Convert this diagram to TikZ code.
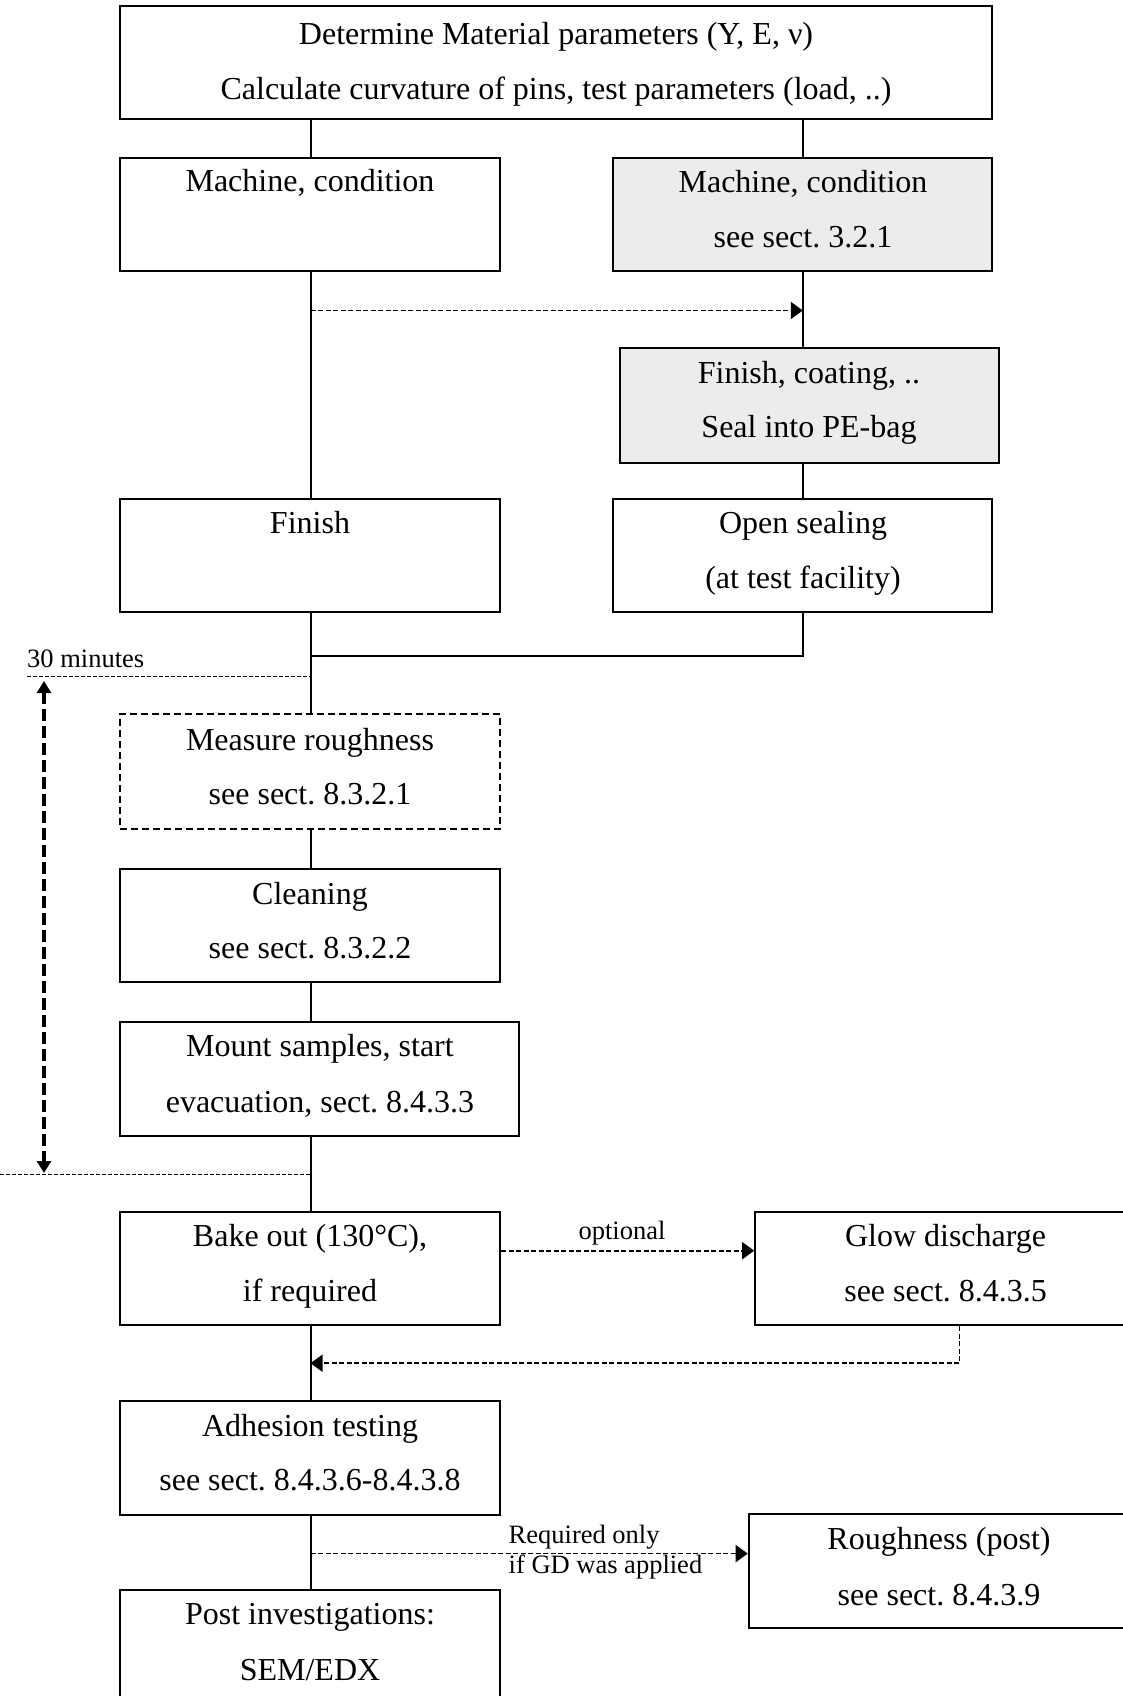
\documentclass[tikz,border=0pt]{standalone}
\usepackage{fontspec}
\setmainfont{Liberation Serif}
\usetikzlibrary{arrows.meta,fit,calc}
\frenchspacing
\begin{document}
\begin{tikzpicture}[x=1pt,y=-1pt,
  box/.style={draw, line width=2pt, rectangle, inner sep=0pt},
  graybox/.style={box, fill=gray!15},
  dbox/.style={draw, line width=1.8pt, dash pattern=on 7pt off 4pt, rectangle, inner sep=0pt},
  txt/.style={font=\fontsize{32}{38}\selectfont, inner sep=0pt, anchor=base, yshift=-10.8pt},
  small/.style={font=\fontsize{26.5}{29.5}\selectfont, inner sep=0pt},
  conn/.style={line width=2pt},
  dconn/.style={line width=1.6pt, dash pattern=on 5pt off 2.5pt},
  dotl/.style={line width=1pt, dash pattern=on 4pt off 2pt},
  tip/.style={-{Triangle[length=12pt,width=17pt]}}
]
\useasboundingbox (0,0) rectangle (1123,1696);
\clip (0,0) rectangle (1123,1696);
% column coordinates
\coordinate (xl) at (310.5,0);
\coordinate (xr) at (802.8,0);
% boxes
\node[box, fit={(120,6.5) (992,119)}] (top) {};
\node[box, fit={(120,158) (500,270.5)}] (m1) {};
\node[graybox, fit={(613.4,158) (992,270.5)}] (m2) {};
\node[graybox, fit={(620,348.4) (998.6,463)}] (fc) {};
\node[box, fit={(120,499) (500,612.4)}] (fin) {};
\node[box, fit={(613.4,499) (992,612.4)}] (os) {};
\node[dbox, fit={(120,714) (500,828.7)}] (mr) {};
\node[box, fit={(120,868.8) (500,982.4)}] (cl) {};
\node[box, fit={(120,1022.4) (519.3,1136)}] (ms) {};
\node[box, fit={(120,1211.7) (500,1325.3)}] (bo) {};
\node[box, fit={(755.2,1211.7) (1136,1325.3)}] (gd) {};
\node[box, fit={(120,1401) (500,1514.6)}] (ad) {};
\node[box, fit={(748.7,1513.6) (1129,1628.2)}] (rp) {};
\node[box, fit={(120,1590.4) (500,1703)}] (pi) {};
% texts
\node[txt] (t1a) at (556,33.5) {Determine Material parameters (Y, E, ν)};
\node[txt] (t1b) at (556,88.7) {Calculate curvature of pins, test parameters (load, ..)};
\node[txt] (tm1) at (310,180.7) {Machine, condition};
\node[txt] (tm2a) at (803,181.8) {Machine, condition};
\node[txt] (tm2b) at (803,237) {see sect. 3.2.1};
\node[txt] (tfca) at (809,373) {Finish, coating, ..};
\node[txt] (tfcb) at (809,427) {Seal into PE-bag};
\node[txt] (tfin) at (310,522.5) {Finish};
\node[txt] (tosa) at (803,522.5) {Open sealing};
\node[txt] (tosb) at (803,577.7) {(at test facility)};
\node[txt] (tmra) at (310,740) {Measure roughness};
\node[txt] (tmrb) at (310,794) {see sect. 8.3.2.1};
\node[txt] (tcla) at (310,893.6) {Cleaning};
\node[txt] (tclb) at (310,947.7) {see sect. 8.3.2.2};
\node[txt] (tmsa) at (320,1046) {Mount samples, start};
\node[txt] (tmsb) at (320,1101.4) {evacuation, sect. 8.4.3.3};
\node[txt] (tboa) at (310,1235.5) {Bake out (130°C),};
\node[txt] (tbob) at (310,1290.7) {if required};
\node[txt] (tgda) at (945.6,1235.5) {Glow discharge};
\node[txt] (tgdb) at (945.6,1290.7) {see sect. 8.4.3.5};
\node[txt] (tada) at (310,1426) {Adhesion testing};
\node[txt] (tadb) at (310,1480) {see sect. 8.4.3.6-8.4.3.8};
\node[txt] (trpa) at (939,1538.5) {Roughness (post)};
\node[txt] (trpb) at (939,1594.7) {see sect. 8.4.3.9};
\node[txt] (tpia) at (310,1614) {Post investigations:};
\node[txt] (tpib) at (310,1669.4) {SEM/EDX};
% small labels
\node[small, anchor=west] (l30) at (27,659) {30 minutes};
\node[small] (lopt) at (622,1233) {optional};
\node[small, align=left, anchor=west] (lreq) at (508.5,1552) {Required only\\if GD was applied};
% helper coordinates
\coordinate (ya) at (0,310.5);
\coordinate (yj) at (0,656);
\coordinate (yd1) at (0,676);
\coordinate (yd2) at (0,1174);
\coordinate (dl1) at (27,676);
\coordinate (dl2) at (0,1174);
\coordinate (ta1) at (44,681);
\coordinate (ta2) at (44,1173);
\coordinate (yret) at (0,1363.2);
\coordinate (xret) at (959.6,0);
\coordinate (yreq) at (0,1553.6);
\coordinate (yopt) at (0,1250.7);
% solid connectors
\draw[conn] (top.south -| xl) -- (m1.north -| xl);
\draw[conn] (top.south -| xr) -- (m2.north -| xr);
\draw[conn] (m1.south -| xl) -- (fin.north -| xl);
\draw[conn] (m2.south -| xr) -- (fc.north -| xr);
\draw[conn] (fc.south -| xr) -- (os.north -| xr);
\draw[conn] (fin.south -| xl) -- (mr.north -| xl);
\draw[conn] (os.south -| xr) -- (xr |- yj) -- (xl |- yj);
\draw[conn] (mr.south -| xl) -- (cl.north -| xl);
\draw[conn] (cl.south -| xl) -- (ms.north -| xl);
\draw[conn] (ms.south -| xl) -- (bo.north -| xl);
\draw[conn] (bo.south -| xl) -- (ad.north -| xl);
\draw[conn] (ad.south -| xl) -- (pi.north -| xl);
% dashed connectors
\draw[dconn, tip] (xl |- ya) -- (xr |- ya);
\draw[dconn, tip] (bo.east |- yopt) -- (gd.west |- yopt);
\draw[dconn, tip] (gd.south -| xret) -- (xret |- yret) -- (xl |- yret);
\draw[dconn, tip] (xl |- yreq) -- (rp.west |- yreq);
% dotted time lines
\draw[dotl] (dl1) -- (xl |- yd1);
\draw[dotl] (dl2) -- (xl |- yd2);
\draw[line width=4pt, dash pattern=on 12pt off 5pt,
  {Triangle[length=12pt,width=14pt]}-{Triangle[length=12pt,width=14pt]}] (ta1) -- (ta2);
\end{tikzpicture}
\end{document}
